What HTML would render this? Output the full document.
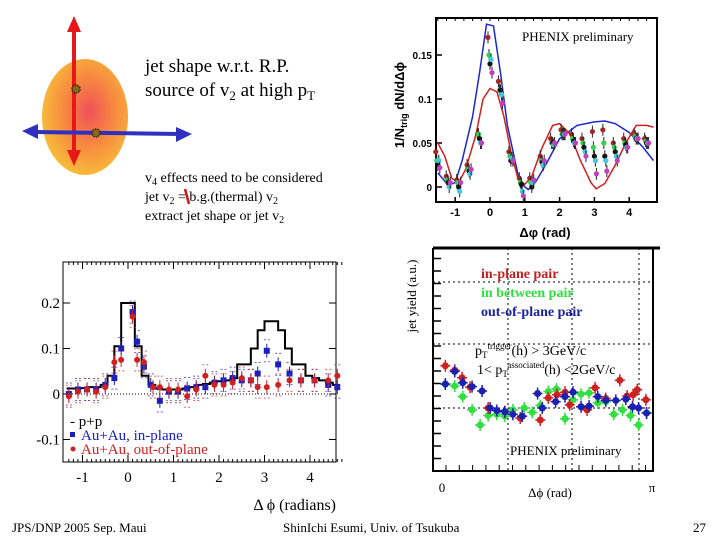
<!DOCTYPE html>
<html><head><meta charset="utf-8"><style>
html,body{margin:0;padding:0;background:#fff;width:720px;height:540px;overflow:hidden}
svg{display:block}
.s{font-family:"Liberation Serif",serif}
.b{font-family:"Liberation Sans",sans-serif;font-weight:bold}
</style></head><body>
<svg id="root" width="720" height="540" xmlns="http://www.w3.org/2000/svg">
<defs>
<radialGradient id="g1" cx="0.55" cy="0.45" r="0.6">
<stop offset="0" stop-color="#f0505a"/><stop offset="0.5" stop-color="#f78a40"/><stop offset="1" stop-color="#f8c23a"/>
</radialGradient>
</defs>
<g>
<ellipse cx="85" cy="117" rx="43" ry="58" fill="url(#g1)"/>
<line x1="74" y1="28" x2="74" y2="155" stroke="#e81818" stroke-width="4"/>
<polygon points="74,16 67,32 81,32" fill="#e81818"/><polygon points="74,166 67,150 81,150" fill="#e81818"/>
<line x1="34" y1="132" x2="180" y2="134" stroke="#3030c0" stroke-width="4"/>
<polygon points="22,131 38,124 38,139" fill="#3030c0"/><polygon points="192,134 176,127 176,142" fill="#3030c0"/>
<circle cx="76" cy="89" r="4" fill="#8a6a10" stroke="#222" stroke-width="1.5" stroke-dasharray="1.5 1"/>
<circle cx="96" cy="133" r="4" fill="#8a6a10" stroke="#222" stroke-width="1.5" stroke-dasharray="1.5 1"/>
</g>
<text class="s" x="145" y="72" font-size="19">jet shape w.r.t. R.P.</text>
<text class="s" x="145" y="96" font-size="19">source of v<tspan font-size="13" dy="4">2</tspan><tspan dy="-4"> at high p</tspan><tspan font-size="13" dy="4">T</tspan></text>
<g class="s" font-size="14">
<text x="145" y="182">v<tspan font-size="10" dy="3">4</tspan><tspan dy="-3"> effects need to be considered</tspan></text>
<text x="145" y="201">jet v<tspan font-size="10" dy="3">2</tspan><tspan dy="-3"> = b.g.(thermal) v</tspan><tspan font-size="10" dy="3">2</tspan></text>
<text x="145" y="220">extract jet shape or jet v<tspan font-size="10" dy="3">2</tspan></text>
<line x1="185" y1="189" x2="189" y2="204" stroke="#d01818" stroke-width="2.5"/>
</g>
<g id="tr"></g>
<g id="bl"></g>
<g id="br"></g>
<text class="s" x="12" y="532" font-size="13">JPS/DNP 2005 Sep. Maui</text>
<text class="s" x="283" y="532" font-size="13">ShinIchi Esumi, Univ. of Tsukuba</text>
<text class="s" x="706" y="532" font-size="13" text-anchor="end">27</text>
</svg>
<script>
// ---------- top-right chart data ----------
const trBlueX=[-1.5,-1.2,-1.0,-0.8,-0.5,-0.3,-0.1,0.1,0.3,0.5,0.8,1.0,1.1,1.3,1.6,2.0,2.5,3.0,3.3,3.6,4.0,4.4,4.7];
const trBlueY=[0.016,0.002,0.005,0.03,0.08,0.13,0.185,0.183,0.13,0.07,0.015,0.0,-0.003,0.005,0.025,0.055,0.07,0.074,0.075,0.072,0.062,0.045,0.03];
const trRedX=[-1.5,-1.3,-1.1,-0.9,-0.7,-0.4,-0.2,0,0.2,0.4,0.6,0.8,1.0,1.2,1.5,1.8,2.0,2.3,2.6,2.9,3.05,3.3,3.6,3.9,4.2,4.5,4.7];
const trRedY=[0.05,0.035,0.01,0.005,0.02,0.06,0.10,0.112,0.108,0.08,0.04,0.01,0.003,0.012,0.045,0.07,0.072,0.06,0.03,0.005,-0.002,0.004,0.025,0.05,0.07,0.07,0.068];
const trPtX=[-1.5,-1.2,-0.9,-0.6,-0.3,0,0.3,0.6,0.9,1.2,1.5,1.8,2.1,2.4,2.7,3.0,3.3,3.6,3.9,4.2,4.5];
const trMaroon=[0.04,0.012,0.008,0.025,0.06,0.17,0.12,0.04,0.01,0.01,0.035,0.055,0.065,0.06,0.055,0.063,0.065,0.05,0.055,0.06,0.055];
const trGreen=[0.03,0.008,0.005,0.02,0.06,0.15,0.11,0.035,0.005,0.005,0.03,0.05,0.06,0.055,0.05,0.045,0.05,0.045,0.05,0.058,0.052];
const trBlack=[0.025,0.005,0.0,0.018,0.055,0.14,0.11,0.03,0.003,0.0,0.028,0.05,0.06,0.052,0.045,0.035,0.035,0.04,0.048,0.055,0.05];
const trCyan=[0.03,0.0,-0.005,0.015,0.05,0.145,0.105,0.033,-0.005,0.005,0.025,0.048,0.06,0.05,0.04,0.03,0.03,0.035,0.045,0.055,0.05];
const trMagenta=[0.022,0.005,0.005,0.02,0.05,0.13,0.095,0.03,-0.01,0.008,0.03,0.05,0.06,0.05,0.035,0.015,0.018,0.03,0.045,0.055,0.05];
const trXTicks=[-1,0,1,2,3,4];
const trYTicks=[0,0.05,0.1,0.15];
const trYLabels=["0","0.05","0.1","0.15"];
// ---------- bottom-left chart data ----------
const blBinStart=-1.35, blBinWidth=0.15;
const blPP=[0.012,0.012,0.013,0.015,0.015,0.02,0.04,0.105,0.2,0.2,0.105,0.04,0.02,0.012,0.01,0.01,0.01,0.012,0.015,0.02,0.022,0.025,0.028,0.03,0.035,0.065,0.065,0.1,0.14,0.16,0.16,0.14,0.1,0.065,0.065,0.04,0.035,0.03,0.025,0.02];
const blInX=[-1.3,-1.1,-0.9,-0.7,-0.5,-0.3,-0.15,0.1,0.2,0.35,0.5,0.7,0.9,1.1,1.3,1.5,1.7,1.9,2.1,2.3,2.5,2.7,2.85,3.05,3.3,3.55,3.8,4.1,4.4,4.6];
const blInY=[0.0,0.01,0.01,0.01,0.02,0.035,0.1,0.18,0.115,0.06,0.02,-0.015,0.005,0.005,0.012,0.015,0.015,0.025,0.03,0.035,0.03,0.03,0.045,0.095,0.065,0.045,0.03,0.03,0.02,0.015];
const blOutX=[-1.3,-1.1,-0.9,-0.7,-0.5,-0.3,-0.15,0.1,0.2,0.35,0.55,0.7,0.9,1.1,1.3,1.5,1.7,1.9,2.1,2.3,2.5,2.7,2.85,3.05,3.3,3.55,3.8,4.1,4.4,4.6];
const blOutY=[-0.005,0.005,0.01,0.005,0.015,0.07,0.075,0.17,0.075,0.07,0.015,0.015,0.01,0.01,-0.005,0.01,0.04,0.02,0.02,0.025,0.035,0.03,0.015,0.015,0.02,0.03,0.03,0.03,0.03,0.04];
const blXTicks=[-1,0,1,2,3,4];
const blYTicks=[-0.1,0,0.1,0.2];
const blYLabels=["-0.1","0","0.1","0.2"];
// ---------- bottom-right chart data ----------
const brRedX=[0.05,0.19,0.3,0.42,0.69,0.94,1.17,1.47,1.59,1.72,1.84,1.91,2.17,2.29,2.45,2.66,2.77,2.86,2.92,3.05];
const brRedY=[1.67,1.6,1.48,1.33,1.0,0.94,0.84,0.81,1.16,1.21,1.25,1.05,0.97,1.32,1.15,1.44,1.19,1.21,1.29,1.13];
const brGreenX=[0.05,0.19,0.31,0.45,0.57,0.69,0.82,0.94,1.06,1.23,1.35,1.47,1.59,1.71,1.84,1.96,2.08,2.2,2.33,2.45,2.57,2.7,2.82,2.94,3.06];
const brGreenY=[1.38,1.35,1.18,0.97,0.73,0.88,0.9,0.87,0.97,1.0,0.93,1.04,1.26,1.3,0.83,1.13,1.22,1.24,1.08,1.1,0.9,0.97,0.88,0.73,0.92];
const brBlueX=[0.05,0.19,0.31,0.45,0.6,0.72,0.82,0.94,1.06,1.2,1.43,1.5,1.7,1.84,1.96,2.08,2.2,2.33,2.45,2.6,2.75,2.85,2.94,3.06];
const brBlueY=[1.38,1.58,1.4,1.34,1.27,1.0,0.96,0.94,0.9,0.87,1.23,1.0,1.1,1.18,1.25,1.02,1.03,1.18,1.12,1.12,1.14,1.02,1.0,0.92];

const NS="http://www.w3.org/2000/svg";
function mk(p,tag,a){const e=document.createElementNS(NS,tag);for(const k in a)e.setAttribute(k,a[k]);p.appendChild(e);return e;}

// ===== top-right =====
(function(){
const g=document.getElementById('tr');
const X0=436,X1=657,Y0=18,Y1=202;
const sx=v=>490+v*34.8, sy=v=>187-v*880;
const ax=mk(g,'rect',{x:X0,y:Y0,width:X1-X0,height:Y1-Y0,fill:'none',stroke:'#000','stroke-width':2});


trXTicks.forEach(t=>{mk(g,'line',{x1:sx(t),x2:sx(t),y1:Y1,y2:Y1-5,stroke:'#000','stroke-width':1.5});
 const tx=mk(g,'text',{x:sx(t),y:Y1+14,'font-size':11,'text-anchor':'middle',class:'b'});tx.textContent=t;
 
 });
trYTicks.forEach((t,i)=>{mk(g,'line',{x1:X0,x2:X0+6,y1:sy(t),y2:sy(t),stroke:'#000','stroke-width':1.5});
 const tx=mk(g,'text',{x:X0-4,y:sy(t)+4,'font-size':10,'text-anchor':'end',class:'b'});tx.textContent=trYLabels[i];
 
 });
for(let v=-1.5;v<=4.6;v+=0.25) mk(g,'line',{x1:sx(v),x2:sx(v),y1:Y0,y2:Y0+3,stroke:'#000'});
function curve(xs,ys,c,name){const p=mk(g,'polyline',{points:xs.map((x,i)=>sx(x)+','+sy(ys[i])).join(' '),fill:'none',stroke:c,'stroke-width':1.5});
 
 }
curve(trBlueX,trBlueY,'#1a28c8','blue-model-curve');
curve(trRedX,trRedY,'#d02020','red-model-curve');
function pts(ys,c,dx,name){const gg=mk(g,'g',{});
 
 
 trPtX.forEach((x,i)=>{const cx=sx(x)+dx,cy=sy(ys[i]);mk(gg,'line',{x1:cx,x2:cx,y1:cy-6,y2:cy+6,stroke:'#222','stroke-width':1});mk(gg,'circle',{cx:cx,cy:cy,r:2.6,fill:c});});}
pts(trMaroon,'#a02828',-2,'maroon-points');
pts(trGreen,'#30d050',-1,'green-points');
pts(trBlack,'#111',0,'black-points');
pts(trCyan,'#40c8e0',1,'cyan-points');
pts(trMagenta,'#c040c0',2,'magenta-points');
const t1=mk(g,'text',{x:522,y:41,'font-size':13,class:'s'});t1.textContent='PHENIX preliminary';


const xl=mk(g,'text',{x:545,y:237,'font-size':13,'text-anchor':'middle',class:'b'});xl.textContent='Δφ (rad)';


const yl=mk(g,'text',{x:0,y:0,'font-size':13,'text-anchor':'middle',class:'b',transform:'translate(404,105) rotate(-90)'});
yl.innerHTML='1/N<tspan font-size="9" dy="3">trig</tspan><tspan dy="-3"> dN/dΔϕ</tspan>';


})();

// ===== bottom-left =====
(function(){
const g=document.getElementById('bl');
const X0=63,X1=336,Y0=262,Y1=462;
const sx=v=>128+v*45.5, sy=v=>394-v*455;
const f=mk(g,'rect',{x:X0,y:Y0,width:X1-X0,height:Y1-Y0,fill:'none',stroke:'#000','stroke-width':1});


mk(g,'line',{x1:X0,x2:X1,y1:sy(0),y2:sy(0),stroke:'#000','stroke-dasharray':'1 2'});
for(let v=-1.3;v<=4.7;v+=0.1){const big=Math.abs(v-Math.round(v))<0.01;mk(g,'line',{x1:sx(v),x2:sx(v),y1:Y1,y2:Y1-(big?7:3),stroke:'#000'});mk(g,'line',{x1:sx(v),x2:sx(v),y1:Y0,y2:Y0+(big?7:3),stroke:'#000'});}
blXTicks.forEach(t=>{const tx=mk(g,'text',{x:sx(t),y:482,'font-size':15,'text-anchor':'middle',class:'s'});tx.textContent=t;
 
 });
blYTicks.forEach((t,i)=>{mk(g,'line',{x1:X0,x2:X0+7,y1:sy(t),y2:sy(t),stroke:'#000'});mk(g,'line',{x1:X1,x2:X1-7,y1:sy(t),y2:sy(t),stroke:'#000'});
 const tx=mk(g,'text',{x:X0-3,y:sy(t)+5,'font-size':15,'text-anchor':'end',class:'s'});tx.textContent=blYLabels[i];
 
 });
let d='';blPP.forEach((v,i)=>{const a=sx(blBinStart+i*blBinWidth),b=sx(blBinStart+(i+1)*blBinWidth);d+=(i?'L':'M')+a+','+sy(v)+'L'+b+','+sy(v);});
const h=mk(g,'path',{d:d,fill:'none',stroke:'#000','stroke-width':2});


function pts(xs,ys,c,name,sq){const gg=mk(g,'g',{});
 
 
 xs.forEach((x,i)=>{const cx=sx(x),cy=sy(ys[i]);
  mk(gg,'line',{x1:cx,x2:cx,y1:cy-7,y2:cy+7,stroke:c});
  mk(gg,'line',{x1:cx-3,x2:cx+3,y1:cy-11,y2:cy-11,stroke:c,'stroke-width':1,'stroke-dasharray':'2 2',opacity:0.7});
  mk(gg,'line',{x1:cx-3,x2:cx+3,y1:cy+11,y2:cy+11,stroke:c,'stroke-width':1,'stroke-dasharray':'2 2',opacity:0.7});
  if(sq)mk(gg,'rect',{x:cx-3,y:cy-3,width:6,height:6,fill:c});else mk(gg,'circle',{cx:cx,cy:cy,r:3,fill:c});});}
pts(blInX,blInY,'#1a20c0','in-plane-points',true);
pts(blOutX,blOutY,'#d02020','out-of-plane-points',false);
const lg=mk(g,'g',{class:'s','font-size':15});


lg.innerHTML='<text x="70" y="426" fill="#000">- p+p</text><rect x="70" y="432" width="5" height="5" fill="#1a20c0"/><text x="81" y="440" fill="#1a20c0">Au+Au, in-plane</text><circle cx="73" cy="449" r="2.5" fill="#d02020"/><text x="81" y="454" fill="#d02020">Au+Au, out-of-plane</text>';
const xl=mk(g,'text',{x:336,y:510,'font-size':16,'text-anchor':'end',class:'s'});xl.textContent='Δ ϕ (radians)';


})();

// ===== bottom-right =====
(function(){
const g=document.getElementById('br');
const X0=433,X1=653,Y0=248,Y1=471;
const sx=v=>442+v*66.85, sy=v=>471-v*63;
mk(g,'line',{x1:433,x2:660,y1:Y0,y2:Y0,stroke:'#000','stroke-width':3});
const f=mk(g,'path',{d:`M${X0},${Y0}V${Y1}H${X1}V${Y0}`,fill:'none',stroke:'#000','stroke-width':2});


[282,344,408].forEach(y=>mk(g,'line',{x1:X0,x2:X1,y1:y,y2:y,stroke:'#000','stroke-dasharray':'2 3'}));
[508,572,639].forEach(x=>mk(g,'line',{x1:x,x2:x,y1:Y0,y2:Y1,stroke:'#000','stroke-dasharray':'2 3'}));
for(let y=Y1;y>Y0;y-=12.5)mk(g,'line',{x1:X0,x2:X0+8,y1:y,y2:y,stroke:'#000','stroke-width':1.5});
for(let x=X0+13;x<X1;x+=13.3)mk(g,'line',{x1:x,x2:x,y1:Y1,y2:Y1-6,stroke:'#000'});
function pts(xs,ys,c,name){const gg=mk(g,'g',{});
 
 
 xs.forEach((x,i)=>{const cx=sx(x),cy=sy(ys[i]);
  mk(gg,'line',{x1:cx-5,x2:cx+5,y1:cy,y2:cy,stroke:c,'stroke-width':1.5});
  mk(gg,'line',{x1:cx,x2:cx,y1:cy-6,y2:cy+6,stroke:c,'stroke-width':1.5});
  mk(gg,'circle',{cx:cx,cy:cy,r:3.5,fill:c});});}
pts(brGreenX,brGreenY,'#30e040','in-between-points');
pts(brRedX,brRedY,'#d02020','in-plane-points');
pts(brBlueX,brBlueY,'#1a20b0','out-of-plane-points');
const lg=mk(g,'g',{class:'s','font-size':14,'font-weight':'bold'});


lg.innerHTML='<text x="481" y="278" fill="#c02020">in-plane pair</text><text x="481" y="297" fill="#30e040">in between pair</text><text x="481" y="316" fill="#1a20a0">out-of-plane pair</text>';
const ann=mk(g,'g',{class:'s','font-size':14});


ann.innerHTML='<text x="475" y="355">p<tspan font-size="9" dy="3">T</tspan><tspan font-size="9" dy="-9">trigger</tspan><tspan dy="6">(h) &gt; 3GeV/c</tspan></text><text x="477" y="374">1&lt; p<tspan font-size="9" dy="3">T</tspan><tspan font-size="9" dy="-9">associated</tspan><tspan dy="6">(h) &lt;2GeV/c</tspan></text>';
const w=mk(g,'text',{x:510,y:455,'font-size':13,class:'s'});w.textContent='PHENIX preliminary';


const t0=mk(g,'text',{x:442,y:492,'font-size':13,'text-anchor':'middle',class:'s'});t0.textContent='0';


const tp=mk(g,'text',{x:652,y:492,'font-size':13,'text-anchor':'middle',class:'s'});tp.textContent='π';


const xl=mk(g,'text',{x:550,y:497,'font-size':13,'text-anchor':'middle',class:'s'});xl.textContent='Δϕ (rad)';


const yl=mk(g,'text',{x:0,y:0,'font-size':13,'text-anchor':'middle',class:'s',transform:'translate(416,296) rotate(-90)'});yl.textContent='jet yield (a.u.)';


})();
</script>
</body></html>
